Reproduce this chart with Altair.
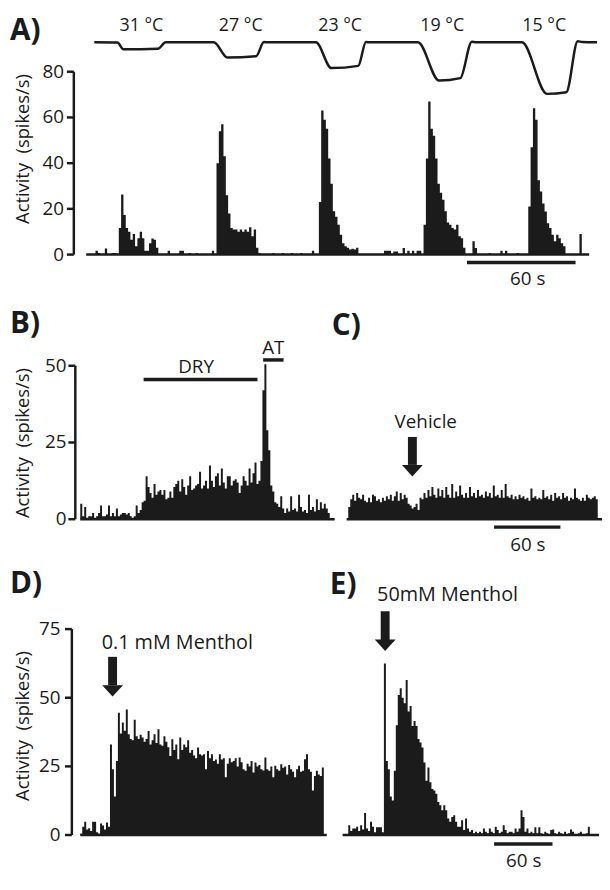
import altair as alt
import pandas as pd

FONT = "Open Sans"
INK = "#1b1b1b"
ARROW_HEAD = "M-1,-0.55L1,-0.55L0,0.55Z"

# ---------------- Panel A: cooling steps ----------------
A_BIN_S = 1.2856
A_RATES = [
    0, 0, 0, 0, 1.7, 0.7, 0, 0, 2.7, 0, 0, 0.7, 0.7, 0, 11.6, 26.3, 17.3, 11.6, 10, 6.5,
    9, 3.6, 7.2, 10, 7.2, 1.7, 1.7, 5, 7, 6.5, 3, 0, 0, 0, 0, 1.7, 0, 0, 0, 0,
    1.7, 1.7, 0, 0, 0.7, 0, 0, 0.7, 0, 0, 0, 0, 0, 0, 1.7, 0, 40, 54, 57, 43,
    26, 18, 11.6, 11, 11, 10, 11, 10, 11, 10, 12, 8, 11, 3, 0.7, 0, 0, 0, 0, 0,
    0.7, 0, 0, 0, 0.7, 0, 0, 0, 0.7, 0, 0, 0, 0.7, 0, 0, 0, 0, 1.7, 0, 0,
    23, 63, 59, 55, 42, 31, 19, 16.6, 13, 8.7, 5, 3.6, 3, 2.2, 2.6, 2.2, 3, 0.3, 0, 0,
    0, 0, 0, 0, 0, 0, 0, 0, 1.7, 1.7, 1.7, 0, 1.4, 1.4, 0, 0, 2.9, 0, 1.7, 0,
    1.7, 0, 1.7, 1.7, 0, 13, 42, 67, 55, 52, 42, 31, 27, 24, 19, 14, 13, 11.6, 11, 13,
    8, 7.2, 3, 0, 0, 0, 5.8, 2.9, 0, 0, 0, 0, 0, 0.7, 0, 0, 0, 0, 1.7, 0,
    1.7, 0, 0, 0, 0, 0.7, 0, 0, 0, 0, 21, 47, 64, 59, 32.5, 27.6, 22.4, 18.8, 13.7, 11.6,
    8.7, 5.8, 8.7, 7.2, 5, 3.6, 0, 0, 0, 0, 0, 0, 9, 0,
]
A_TEMP_TIME = [4.5, 17.3, 20.5, 39.7, 43.9, 46.0, 70.5, 78.0, 93.9, 98.2, 100.5,
               126.9, 135.5, 150.3, 154.6, 157.0, 183.3, 195.0, 206.7, 213.1, 215.5,
               240.8, 254.6, 265.3, 271.6, 274.0, 282.3]
A_TEMP_DEG = [33.5, 33.4, 31.0, 31.2, 33.5, 33.5, 33.5, 28.0, 28.5, 33.6, 33.5,
              33.5, 24.2, 25.0, 33.6, 33.5, 33.5, 19.7, 20.6, 33.7, 33.5,
              33.5, 14.9, 15.5, 33.9, 33.6, 33.5]
A_STEP_TIME = [30.5, 85.4, 140.3, 196.7, 253.1]
A_STEP_LABEL = ["31 °C", "27 °C", "23 °C", "19 °C", "15 °C"]
A_STEP_LABEL_DEG = 39.5
A_TICKS = [0, 20, 40, 60, 80]

# ---------------- Panel B: dry / AT ----------------
BC_BIN_S = 1.791
B_RATES = [
    5, 1, 4, 0.5, 1, 1, 2, 0.5, 1, 2, 4.5, 1, 1, 1.5, 4.5, 1, 2, 1, 3.5, 1,
    1.5, 2, 2, 1.5, 2, 1, 0.5, 1, 4.5, 2, 3, 5.5, 6, 14, 10.5, 8.5, 7, 11.5, 8, 9,
    9.5, 8, 9.5, 6.5, 7, 9, 7, 10.5, 11.5, 12.5, 9, 13, 10.5, 8, 11, 14, 9.5, 10, 11, 11.5,
    15.5, 10, 11, 12.5, 10, 17.5, 12.5, 10.5, 14, 15, 11, 16.5, 12, 10, 14, 14, 11, 12.5, 13, 12,
    8.5, 11, 14, 12.5, 11, 16.5, 12, 15, 18.5, 11.5, 12.5, 19, 42, 50.5, 29, 22.5, 11, 9, 5.5, 5,
    4, 7.5, 3.5, 2, 3.5, 2.5, 7.5, 3, 3.5, 2.5, 8, 4, 2.5, 3, 2, 8, 3, 4, 2.5, 6.5,
    3, 5.5, 3.5, 5, 3.5, 2,
]
B_DRY = [57.3, 160.3]
B_AT = [165.4, 183.9]
B_TICKS = [0, 25, 50]

# ---------------- Panel C: vehicle ----------------
C_RATES = [
    4, 6.5, 8, 6, 8.5, 7, 6.5, 8, 6, 5.5, 7, 5.5, 8, 7.5, 6, 6.5, 5.5, 7, 6, 7.5,
    6.5, 8, 6, 7.5, 9, 6, 8.5, 6.5, 8, 7, 5, 4.5, 3.5, 4, 5, 3, 7, 6.5, 8.5, 7,
    9.5, 7.5, 10.5, 8, 7, 10, 7.5, 9.5, 7, 10.5, 8, 7, 11.5, 7, 9, 7.5, 11, 8, 7, 8.5,
    7, 10.5, 7.5, 8.5, 7, 9.5, 7.5, 8, 7, 9, 7.5, 8.5, 7, 11, 7.5, 8, 7, 9.5, 7, 11.5,
    7.5, 7, 8, 6.5, 7.5, 6.5, 8, 7, 7.5, 6.5, 7, 6, 10, 7, 7.5, 6.5, 7, 6.5, 9.5, 7,
    7.5, 6.5, 8, 6, 8.5, 7, 7.5, 6.5, 8.5, 7, 7.5, 6, 7, 6.5, 10, 7, 6.5, 6, 7, 6,
    8, 7, 6.5, 7, 7.5, 6.5,
]

# ---------------- Panel D: 0.1 mM menthol ----------------
DE_BIN_S = 2.034
D_RATES = [
    0.5, 3, 4.8, 2, 2.5, 1.5, 4.8, 4.8, 1, 0.5, 4.2, 3.5, 2, 4.6, 3, 33, 24, 14, 27, 44.5,
    37, 41, 38, 45.7, 36.7, 35, 34.5, 42, 36, 35, 36.5, 35.5, 34, 35, 37.9, 33, 34.5, 36.7, 33.5, 38.5,
    33, 32.5, 36, 34, 32, 28.8, 34.9, 31, 33, 27.6, 35.5, 31, 33, 32, 34.5, 30, 31, 29, 28, 31.9,
    29.4, 29, 29.4, 24, 30.6, 28, 29.4, 27, 27.5, 26, 29.4, 27.5, 28, 21, 26, 28, 26.5, 27, 28, 25,
    28.2, 26.5, 24, 23.4, 26, 25, 27, 22.8, 26.4, 25, 25.5, 24, 23.5, 28.2, 24, 23.4, 25, 21, 25.2, 24,
    23.4, 25.8, 24.5, 25, 22, 25.5, 24, 23, 21, 24, 25.2, 23, 23.4, 27.6, 29.4, 24, 23, 16.2, 21.5, 23.4,
    22, 21.5, 24.6,
]
D_TICKS = [0, 25, 50, 75]

# ---------------- Panel E: 50 mM menthol ----------------
E_RATES = [
    3.6, 1.5, 2.4, 2.4, 3, 1.5, 3.6, 2, 8, 2.4, 1.5, 4.8, 3, 1, 2.8, 2.8, 2.8, 1, 62.5, 27,
    24, 14, 12.6, 23.4, 40, 51, 53.5, 50, 48, 56.5, 45, 47, 39.7, 41.5, 39.7, 35, 33.7, 31.9, 26.4, 19.8,
    24.6, 19.2, 16.8, 16.2, 15, 12, 10.8, 9, 10.8, 9, 6, 4.8, 6.6, 7.2, 4.8, 3, 3, 5.4, 1.8, 6,
    2.4, 1.2, 1.8, 0.6, 1.2, 0.6, 1.2, 0.6, 2.4, 1.2, 0.6, 2.4, 1.2, 0.6, 3, 1.8, 0.6, 1.2, 3.6, 1.8,
    0.6, 1.2, 1.2, 0.6, 2.4, 1.2, 2.4, 9, 6.6, 1.2, 2.4, 0.6, 1.2, 0.6, 2.8, 0.6, 2.8, 0.6, 0, 1.2,
    0.6, 0, 1.8, 2, 0.6, 0, 1.2, 0.6, 0, 1.2, 0, 0.6, 2, 1.2, 0, 0, 0.6, 1.2, 0, 0,
    0.6, 3,
]

PANEL_LABELS = ["A)", "B)", "C)", "D)", "E)"]
PANEL_LABEL_X = [2, 2, 327, 2, 325]
PANEL_LABEL_Y = [4, 300, 302, 563, 564]
Y_TITLE = "Activity\u00a0 (spikes/s)"


def sc(domain, rng):
    return alt.Scale(domain=domain, range=rng, nice=False, zero=False)


def hist(rates, binw, xs, ys):
    n = len(rates)
    df = pd.DataFrame({"t": [i * binw for i in range(n + 1)],
                       "v": list(rates) + [rates[-1]]})
    return alt.Chart(df).mark_area(interpolate="step-after", color=INK).encode(
        x=alt.X("t:Q", scale=xs, axis=None),
        y=alt.Y("v:Q", scale=ys, axis=None),
        y2=alt.datum(0),
    )


def hrule(t0, t1, y, xs, ys, width):
    df = pd.DataFrame({"t0": [t0], "t1": [t1], "y": [y]})
    return alt.Chart(df).mark_rule(color=INK, strokeWidth=width, strokeCap="butt").encode(
        x=alt.X("t0:Q", scale=xs, axis=None), x2="t1:Q",
        y=alt.Y("y:Q", scale=ys, axis=None))


def label(ts, vs, texts, xs, ys, size, align="center", angle=0):
    df = pd.DataFrame({"t": ts, "v": vs, "s": texts})
    return alt.Chart(df).mark_text(font=FONT, fontSize=size, color=INK, angle=angle,
                                   align=align, baseline="middle").encode(
        x=alt.X("t:Q", scale=xs, axis=None),
        y=alt.Y("v:Q", scale=ys, axis=None), text="s:N")


def arrow(t, top, base, head, xs, ys):
    shaft = alt.Chart(pd.DataFrame({"t": [t], "a": [top], "b": [base]})).mark_rule(
        color=INK, strokeWidth=9, strokeCap="butt").encode(
        x=alt.X("t:Q", scale=xs, axis=None),
        y=alt.Y("a:Q", scale=ys, axis=None), y2="b:Q")
    tip = alt.Chart(pd.DataFrame({"t": [t], "h": [head]})).mark_point(
        shape=ARROW_HEAD, size=441, filled=True, color=INK, opacity=1, strokeWidth=0).encode(
        x=alt.X("t:Q", scale=xs, axis=None),
        y=alt.Y("h:Q", scale=ys, axis=None))
    return alt.layer(shaft, tip)


def y_axis(ticks, t_axis, t_tick, t_label, t_title, v_title, xs, ys):
    """Left axis drawn through the panel's own scales: line, ticks, labels, title."""
    line = alt.Chart(pd.DataFrame({"t": [t_axis], "a": [ticks[0]], "b": [ticks[-1]]})).mark_rule(
        color=INK, strokeWidth=2.5).encode(
        x=alt.X("t:Q", scale=xs, axis=None),
        y=alt.Y("a:Q", scale=ys, axis=None), y2="b:Q")
    tdf = pd.DataFrame({"t0": [t_tick] * len(ticks), "t1": [t_axis] * len(ticks), "v": ticks})
    tk = alt.Chart(tdf).mark_rule(color=INK, strokeWidth=2.5).encode(
        x=alt.X("t0:Q", scale=xs, axis=None), x2="t1:Q",
        y=alt.Y("v:Q", scale=ys, axis=None))
    lab = label([t_label] * len(ticks), ticks, [str(v) for v in ticks], xs, ys, 19, align="right")
    title = label([t_title], [v_title], [Y_TITLE], xs, ys, 18.5, angle=270)
    return alt.layer(line, tk, lab, title)


# scales (time in s, rate in spikes/s)
xA = sc([0, 280], [79, 590.84]); yA = sc([0, 80], [244.7, 60.0])
xT = sc([0, 280], [79, 590.84]); tA = sc([10, 35], [96.1, 26.1])
xB = sc([0, 230], [73, 329.84]); yB = sc([0, 50], [512, 357])
xC = sc([0, 230], [343.7, 600.54]); yC = sc([0, 50], [512, 357])
xD = sc([0, 255], [73, 323.74]); yD = sc([0, 75], [831, 623])
xE = sc([0, 255], [343.7, 594.44]); yE = sc([0, 75], [831, 623])

panelA = alt.layer(
    hist(A_RATES, A_BIN_S, xA, yA),
    y_axis(A_TICKS, -6.84, -10.67, -12.31, -35.0, 46.2, xA, yA),
    hrule(0, 277.9, 0, xA, yA, 2.5),
    hrule(210.4, 270.4, -3.46, xA, yA, 3.5),
    label([244.0], [-10.8], ["60 s"], xA, yA, 19),
)
trace_df = pd.DataFrame({"t": A_TEMP_TIME, "c": A_TEMP_DEG})
traceA = alt.layer(
    alt.Chart(trace_df).mark_line(interpolate="monotone", color=INK, strokeWidth=2.5).encode(
        x=alt.X("t:Q", scale=xT, axis=None), y=alt.Y("c:Q", scale=tA, axis=None)),
    label(A_STEP_TIME, [A_STEP_LABEL_DEG] * 5, A_STEP_LABEL, xT, tA, 18),
)
panelB = alt.layer(
    hist(B_RATES, BC_BIN_S, xB, yB),
    y_axis(B_TICKS, -4.48, -10.75, -12.54, -52.0, 24.8, xB, yB),
    hrule(0, 230.1, 0, xB, yB, 2.5),
    hrule(B_DRY[0], B_DRY[1], 45.5, xB, yB, 3.5),
    label([104.7], [49.5], ["DRY"], xB, yB, 19),
    hrule(B_AT[0], B_AT[1], 51.9, xB, yB, 3.5),
    label([174.6], [55.8], ["AT"], xB, yB, 19),
)
panelC = alt.layer(
    hist(C_RATES, BC_BIN_S, xC, yC),
    hrule(-1.5, 231.3, 0, xC, yC, 2.5),
    hrule(131.9, 191.9, -2.58, xC, yC, 3.5),
    label([162.4], [-8.3], ["60 s"], xC, yC, 19),
    arrow(58.0, 26.8, 17.7, 15.8, xC, yC),
    label([70.1], [31.6], ["Vehicle"], xC, yC, 19),
)
panelD = alt.layer(
    hist(D_RATES, DE_BIN_S, xD, yD),
    y_axis(D_TICKS, -8.64, -15.76, -20.34, -59.0, 39.7, xD, yD),
    hrule(0, 253.2, 0, xD, yD, 2.5),
    arrow(33.2, 64.9, 54.5, 52.5, xD, yD),
    label([99.7], [70.0], ["0.1 mM Menthol"], xD, yD, 20),
)
panelE = alt.layer(
    hist(E_RATES, DE_BIN_S, xE, yE),
    hrule(-5.8, 257.6, 0, xE, yE, 2.5),
    hrule(149.8, 209.8, -3.25, xE, yE, 3.5),
    label([180.3], [-9.4], ["60 s"], xE, yE, 19),
    arrow(37.9, 81.5, 71.0, 69.1, xE, yE),
    label([102.0], [87.3], ["50mM Menthol"], xE, yE, 20),
)
letters = alt.Chart(pd.DataFrame({"s": PANEL_LABELS, "px": PANEL_LABEL_X, "py": PANEL_LABEL_Y})).mark_text(
    font=FONT, fontSize=30, fontWeight="bold", color=INK, align="left", baseline="top").encode(
    x=alt.X("px:Q", scale=None, axis=None), y=alt.Y("py:Q", scale=None, axis=None), text="s:N")

chart = alt.layer(panelA, traceA, panelB, panelC, panelD, panelE, letters).resolve_scale(
    x="independent", y="independent").resolve_axis(x="independent", y="independent").properties(
    width=600, height=866, autosize=alt.AutoSizeParams(type="none"), padding=0,
    background="white").configure_view(stroke=None)

chart.save("out.html", embed_options={"renderer": "svg", "actions": False})
